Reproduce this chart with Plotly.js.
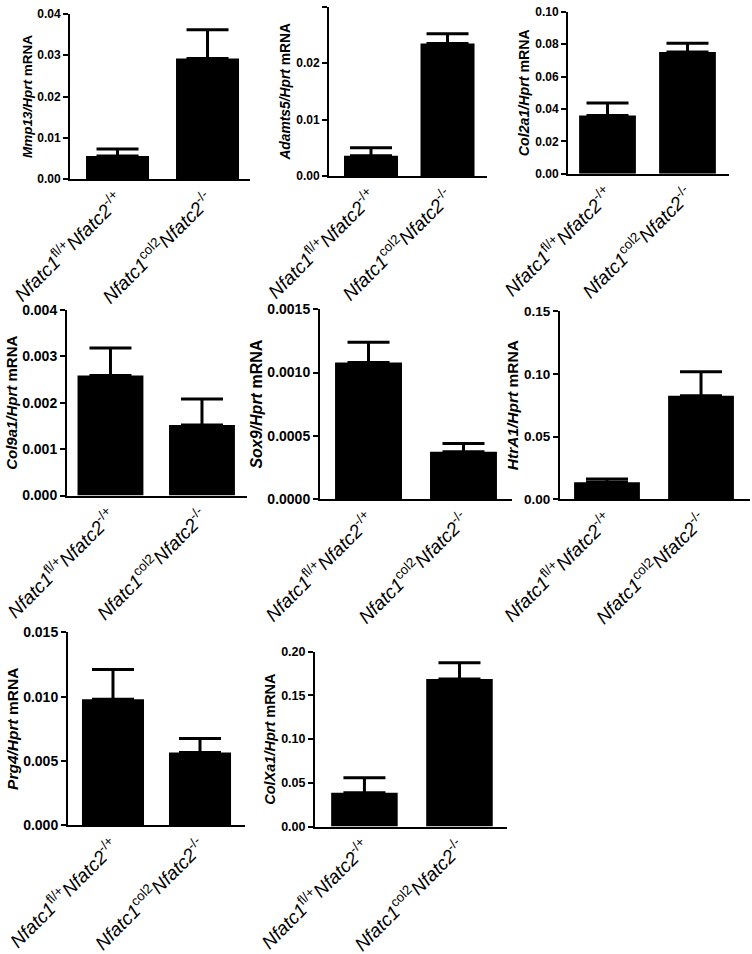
<!DOCTYPE html>
<html>
<head>
<meta charset="utf-8">
<script src="https://cdn.plot.ly/plotly-3.0.1.min.js"></script>
<style>html,body{margin:0;padding:0;background:#fff}#chart{width:752px;height:954px}</style>
</head>
<body>
<div id="chart"></div>
<script>
// ---- data ----
const groups = [0, 1];
const groupLabels = [
  '<i>Nfatc1</i><sup>fl/+</sup><i>Nfatc2</i><sup>-/+</sup>',
  '<i>Nfatc1</i><sup>col2</sup><i>Nfatc2</i><sup>-/-</sup>'
];
const genes = ['Mmp13', 'Adamts5', 'Col2a1', 'Col9a1', 'Sox9', 'HtrA1', 'Prg4', 'ColXa1'];

const mmp13Mean = [0.0056, 0.0292];   const mmp13Sem = [0.0017, 0.0070];
const adamts5Mean = [0.0036, 0.0235]; const adamts5Sem = [0.0014, 0.0017];
const col2a1Mean = [0.0360, 0.0751];  const col2a1Sem = [0.0076, 0.0054];
const col9a1Mean = [0.00259, 0.00152]; const col9a1Sem = [0.00059, 0.00056];
const sox9Mean = [0.00108, 0.000374]; const sox9Sem = [0.00016, 0.000065];
const htra1Mean = [0.0135, 0.0824];   const htra1Sem = [0.0027, 0.0192];
const prg4Mean = [0.0098, 0.00565];   const prg4Sem = [0.0023, 0.0011];
const colxa1Mean = [0.0387, 0.1688];  const colxa1Sem = [0.0171, 0.0186];

const means = [mmp13Mean, adamts5Mean, col2a1Mean, col9a1Mean, sox9Mean, htra1Mean, prg4Mean, colxa1Mean];
const sems  = [mmp13Sem, adamts5Sem, col2a1Sem, col9a1Sem, sox9Sem, htra1Sem, prg4Sem, colxa1Sem];

// axis maxima, tick steps and formats
const yMax  = [0.04, 0.03, 0.10, 0.004, 0.0015, 0.15, 0.015, 0.20];
const yStep = [0.01, 0.01, 0.02, 0.001, 0.0005, 0.05, 0.005, 0.05];
const yFmt  = ['.2f', '.2f', '.2f', '.3f', '.4f', '.2f', '.3f', '.2f'];

// ---- layout geometry (pixels) ----
const W = 752, H = 954;
// [left, right, top, bottom, xRangeMin, xRangeMax, barWidth, tickFontSize, titleFontSize]
const geom = [
  [70, 250, 14, 179, -0.528, 1.472, 0.70, 12, 13.5],
  [329, 487, 6.7, 176, -0.549, 1.516, 0.706, 12, 13.8],
  [568, 729, 11.7, 173.7, -0.494, 1.519, 0.71, 12, 14.2],
  [67, 247, 310, 495.5, -0.475, 1.492, 0.72, 14, 15],
  [320, 512, 309.3, 499, -0.511, 1.511, 0.705, 14, 16],
  [560, 750, 311, 499.3, -0.5, 1.521, 0.70, 13.5, 15.5],
  [68, 245, 632.3, 825.3, -0.517, 1.517, 0.713, 14, 15.5],
  [315, 507, 651.7, 826.5, -0.52, 1.5, 0.70, 12.5, 14.5]
];

const FONT = 'Arial, "Liberation Sans", Helvetica, sans-serif';
const data = [];
const layout = {
  width: W, height: H,
  margin: {l: 0, r: 0, t: 0, b: 0},
  paper_bgcolor: '#fff', plot_bgcolor: 'rgba(0,0,0,0)',
  showlegend: false,
  font: {family: FONT, color: '#000'}
};

genes.forEach((g, i) => {
  const n = i === 0 ? '' : String(i + 1);
  const [l, r, t, b, x0, x1, bw, fs, ts] = geom[i];
  data.push({
    type: 'bar',
    x: groups,
    y: means[i],
    width: bw,
    marker: {color: '#000', line: {width: 0}},
    error_y: {
      type: 'data', symmetric: false,
      array: sems[i], arrayminus: sems[i].map(() => 0),
      color: '#000', thickness: 3, width: 21
    },
    xaxis: 'x' + n, yaxis: 'y' + n,
    hoverinfo: 'skip'
  });
  layout['xaxis' + n] = {
    domain: [l / W, r / W],
    anchor: 'y' + n,
    range: [x0, x1],
    tickmode: 'array', tickvals: groups, ticktext: groupLabels,
    tickangle: -45,
    tickfont: {family: FONT, size: 19, color: '#000'},
    ticklabeloverflow: 'allow',
    ticks: '', showgrid: false, zeroline: false,
    showline: true, linecolor: '#000', linewidth: 2,
    fixedrange: true, automargin: false
  };
  layout['yaxis' + n] = {
    domain: [1 - b / H, 1 - t / H],
    anchor: 'x' + n,
    range: [0, yMax[i]],
    dtick: yStep[i], tick0: 0,
    tickformat: yFmt[i],
    tickfont: {family: FONT, size: fs, color: '#000', weight: 'bold'},
    ticks: 'outside', ticklen: 5, tickwidth: 2, tickcolor: '#000',
    showgrid: false, zeroline: false,
    showline: true, linecolor: '#000', linewidth: 2,
    title: {text: '<i>' + g + '/Hprt</i> mRNA', font: {family: FONT, size: ts, color: '#000', weight: 'bold'}},
    fixedrange: true, automargin: false
  };
});

Plotly.newPlot('chart', data, layout, {displayModeBar: false, staticPlot: true});
</script>
</body>
</html>
